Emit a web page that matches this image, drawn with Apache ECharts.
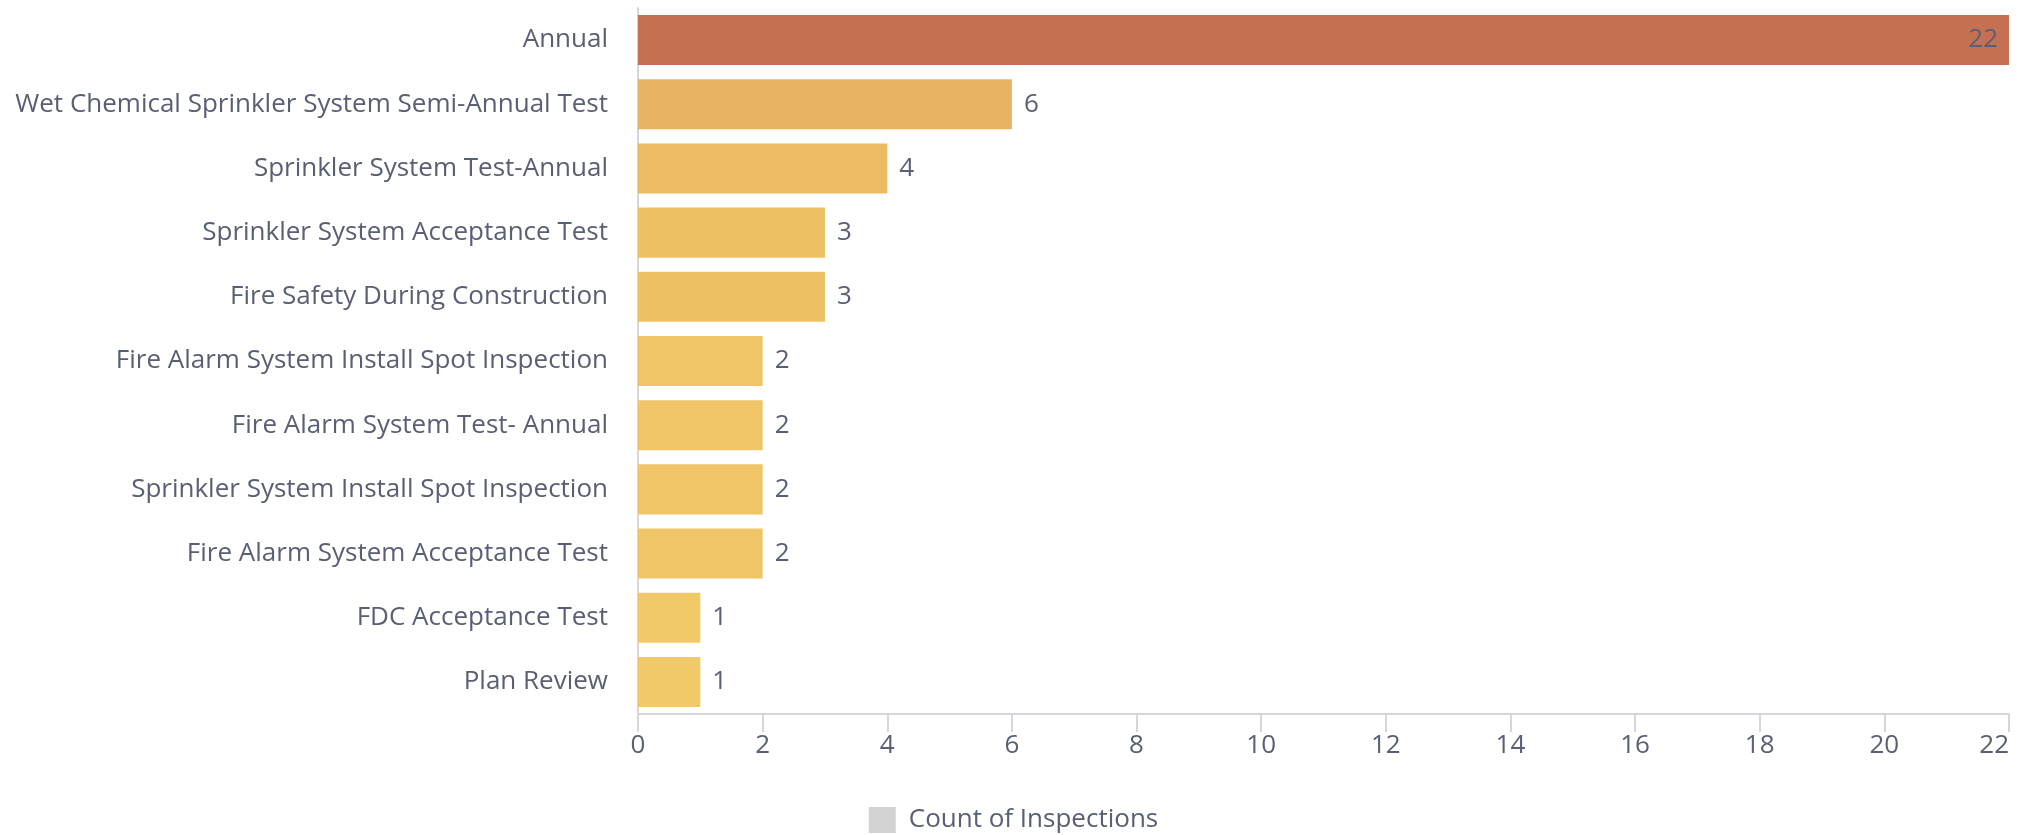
<!DOCTYPE html>
<html>
<head>
<meta charset="utf-8">
<script src="https://cdn.jsdelivr.net/npm/echarts@6/dist/echarts.min.js"></script>
<style>
  html, body { margin: 0; padding: 0; background: #fff; }
  #chart { width: 2027px; height: 835px; }
</style>
</head>
<body>
<div id="chart"></div>
<script>
// Inspection types, listed top to bottom
const categories = [
  'Annual',
  'Wet Chemical Sprinkler System Semi-Annual Test',
  'Sprinkler System Test-Annual',
  'Sprinkler System Acceptance Test',
  'Fire Safety During Construction',
  'Fire Alarm System Install Spot Inspection',
  'Fire Alarm System Test- Annual',
  'Sprinkler System Install Spot Inspection',
  'Fire Alarm System Acceptance Test',
  'FDC Acceptance Test',
  'Plan Review'
];
const counts = [22, 6, 4, 3, 3, 2, 2, 2, 2, 1, 1];
const seriesName = 'Count of Inspections';
const xTicks = { min: 0, max: 22, interval: 2 };

const textColor = '#596074';
const axisColor = '#d6d6dd';
const fontFamily = '"Open Sans", "Noto Sans", sans-serif';
const fontSize = 26;

// category axis runs bottom-up in ECharts, so feed it reversed
const cats = categories.slice().reverse();
const vals = counts.slice().reverse();
const maxVal = Math.max.apply(null, counts);

const chart = echarts.init(document.getElementById('chart'), null, { renderer: 'canvas' });
chart.setOption({
  animation: false,
  textStyle: { fontFamily: fontFamily },
  grid: { left: 638, right: 18, top: 8, bottom: 121, containLabel: false },
  visualMap: {
    show: false,
    type: 'continuous',
    dimension: 0,
    seriesIndex: 0,
    min: 1,
    max: maxVal,
    inRange: { color: ['#F2C968', '#C67052'] }
  },
  legend: {
    data: [{ name: seriesName, itemStyle: { color: '#d3d3d3' } }],
    left: 'center',
    top: 802,
    icon: 'rect',
    itemWidth: 27,
    itemHeight: 26,
    textStyle: { color: textColor, fontSize: fontSize, fontFamily: fontFamily, padding: [0, 0, 0, 8] },
    selectedMode: false
  },
  xAxis: {
    type: 'value',
    min: xTicks.min,
    max: xTicks.max,
    interval: xTicks.interval,
    axisLine: { show: true, lineStyle: { color: axisColor, width: 2 } },
    axisTick: { show: true, length: 18, lineStyle: { color: axisColor, width: 2 } },
    axisLabel: {
      color: textColor, fontSize: fontSize, margin: 19, fontFamily: fontFamily,
      alignMaxLabel: 'right'
    },
    splitLine: { show: false }
  },
  yAxis: {
    type: 'category',
    data: cats,
    axisLine: { show: true, lineStyle: { color: axisColor, width: 2 } },
    axisTick: { show: false },
    axisLabel: { color: textColor, fontSize: fontSize, margin: 30, fontFamily: fontFamily }
  },
  series: [{
    name: seriesName,
    type: 'bar',
    data: vals.map(function (v) {
      return {
        value: v,
        label: v === maxVal
          ? { position: 'insideRight', distance: 11 }
          : { position: 'right', distance: 12 }
      };
    }),
    barCategoryGap: '22%',
    label: { show: true, color: textColor, fontSize: fontSize, fontFamily: fontFamily }
  }]
});
</script>
</body>
</html>
